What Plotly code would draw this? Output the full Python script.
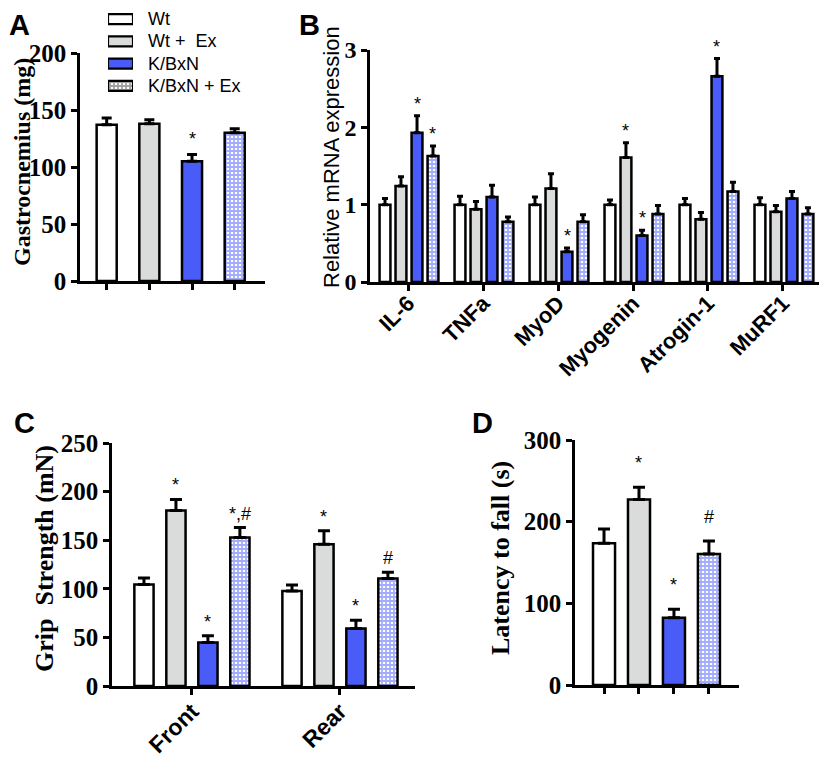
import plotly.graph_objects as go

# ---------------- data ----------------
groups = ["Wt", "Wt +  Ex", "K/BxN", "K/BxN + Ex"]

# Panel A: gastrocnemius mass (mg)
gastro_mean = [137, 138, 105, 130]
gastro_sem = [6, 3.5, 6, 3.5]
gastro_sig = ["", "", "*", ""]

# Panel B: relative mRNA expression
genes = ["IL-6", "TNFa", "MyoD", "Myogenin", "Atrogin-1", "MuRF1"]
mrna_wt = [1.0, 1.0, 1.0, 1.0, 1.0, 1.0]
mrna_wt_sem = [0.08, 0.11, 0.10, 0.06, 0.08, 0.09]
mrna_wtex = [1.24, 0.94, 1.21, 1.61, 0.81, 0.91]
mrna_wtex_sem = [0.12, 0.10, 0.19, 0.19, 0.09, 0.08]
mrna_kbxn = [1.93, 1.10, 0.39, 0.60, 2.66, 1.08]
mrna_kbxn_sem = [0.22, 0.15, 0.05, 0.07, 0.23, 0.09]
mrna_kbxnex = [1.63, 0.78, 0.78, 0.88, 1.17, 0.88]
mrna_kbxnex_sem = [0.13, 0.06, 0.09, 0.11, 0.12, 0.08]
mrna_sig = [
    ["", "", "", "", "", ""],
    ["", "", "", "*", "", ""],
    ["*", "", "*", "*", "*", ""],
    ["*", "", "", "", "", ""],
]

# Panel C: grip strength (mN)
limbs = ["Front", "Rear"]
grip_wt = [104.5, 97.7]
grip_wt_sem = [6.5, 6.2]
grip_wtex = [180.5, 145.8]
grip_wtex_sem = [11.5, 13.8]
grip_kbxn = [44.7, 59.1]
grip_kbxn_sem = [6.9, 8.6]
grip_kbxnex = [152.7, 110.7]
grip_kbxnex_sem = [10.3, 6.3]
grip_sig = [["", ""], ["*", "*"], ["*", "*"], ["*,#", "#"]]

# Panel D: latency to fall (s)
latency_mean = [173.5, 227, 82.4, 160.4]
latency_sem = [17.5, 15, 10.3, 16]
latency_sig = ["", "*", "*", "#"]

# ---------------- styles ----------------
BLUE = "#4a5cf7"
GRAY = "#d9dcdb"
fills = ["white", GRAY, BLUE, "white"]
patterns = ["", "", "", "+"]
SERIF = "Liberation Serif"
SANS = "Liberation Sans"
PAGE_OFF = 8                      # default body margin of the html page
W, H = 827 - PAGE_OFF, 757 - PAGE_OFF


def clamp(v):
    return min(1.0, max(0.0, v))


def fx(px):
    return (px - PAGE_OFF) / W


def fy(py):
    return 1 - (py - PAGE_OFF) / H


def dom_x(a, b):
    return [clamp(fx(a)), clamp(fx(b))]


def dom_y(top, bottom):
    return [clamp(fy(bottom)), clamp(fy(top))]


PAT = dict(fgcolor=BLUE, bgcolor="white", size=4, solidity=0.7,
           fillmode="overlay")


def pattern_for(i):
    if patterns[i]:
        return dict(shape=patterns[i], **PAT)
    return None


fig = go.Figure()


def add_bar(xpos, ys, sems, i, xa, ya, width, sig, sig_shift, cap):
    fig.add_trace(go.Bar(
        x=xpos, y=ys, width=width,
        marker=dict(color=fills[i], line=dict(color="black", width=2.5),
                    pattern=pattern_for(i)),
        error_y=dict(type="data", symmetric=False, array=sems,
                     arrayminus=[0] * len(ys), color="black",
                     thickness=3, width=cap),
        name=groups[i], showlegend=False,
        xaxis=xa, yaxis=ya,
    ))
    for x, y, s, t in zip(xpos, ys, sems, sig):
        if t:
            fig.add_annotation(x=x, y=y + s, text=t, xref=xa, yref=ya,
                               showarrow=False, yanchor="bottom",
                               yshift=sig_shift,
                               font=dict(family=SANS, size=18, color="black"))


# Panel A
for i in range(4):
    add_bar([i], [gastro_mean[i]], [gastro_sem[i]], i, "x", "y", 0.47,
            [gastro_sig[i]], 3, 5)

# Panel B
b_vals = [mrna_wt, mrna_wtex, mrna_kbxn, mrna_kbxnex]
b_sems = [mrna_wt_sem, mrna_wtex_sem, mrna_kbxn_sem, mrna_kbxnex_sem]
b_offsets = [-0.32, -0.107, 0.107, 0.32]
for i in range(4):
    xs = [k + 0.013 + b_offsets[i] for k in range(len(genes))]
    add_bar(xs, b_vals[i], b_sems[i], i, "x2", "y2", 0.145,
            mrna_sig[i], 0, 3)

# Panel C
c_vals = [grip_wt, grip_wtex, grip_kbxn, grip_kbxnex]
c_sems = [grip_wt_sem, grip_wtex_sem, grip_kbxn_sem, grip_kbxnex_sem]
c_offsets = [-0.324, -0.108, 0.108, 0.324]
for i in range(4):
    xs = [k + c_offsets[i] for k in range(len(limbs))]
    add_bar(xs, c_vals[i], c_sems[i], i, "x3", "y3", 0.13,
            grip_sig[i], 2, 6)

# Panel D
for i in range(4):
    add_bar([i], [latency_mean[i]], [latency_sem[i]], i, "x4", "y4", 0.63,
            [latency_sig[i]], 12, 6)

# Legend (drawn as a small horizontal-bar key so the boxes are wide)
fig.add_trace(go.Bar(
    y=list(range(len(groups))), x=[1] * len(groups), orientation="h",
    width=0.45, showlegend=False, hoverinfo="skip",
    marker=dict(color=fills, line=dict(color="black", width=2.2),
                pattern=dict(shape=patterns, **PAT)),
    xaxis="x5", yaxis="y5",
))
for k, g in enumerate(groups):
    fig.add_annotation(x=fx(146), y=k, xref="paper", yref="y5",
                       text=g, showarrow=False, xanchor="left",
                       yanchor="middle",
                       font=dict(family=SANS, size=18, color="black"))

axis_common = dict(showline=True, linecolor="black", linewidth=2.5,
                   ticks="outside", tickwidth=2.5, tickcolor="black",
                   ticklen=6, showgrid=False, zeroline=False,
                   automargin=False)
ytick_font = dict(family=SERIF, size=25, color="black", weight="bold")
hidden = dict(visible=False, showgrid=False, zeroline=False,
              automargin=False)

fig.update_layout(
    width=W, height=H, margin=dict(l=0, r=0, t=0, b=0, autoexpand=False),
    plot_bgcolor="white", paper_bgcolor="white", barmode="overlay",
    showlegend=False,
    # Panel A
    xaxis=dict(domain=dom_x(80, 265), range=[-0.625, 3.71],
               tickvals=[0, 1, 2, 3], ticktext=["", "", "", ""],
               anchor="y", **axis_common),
    yaxis=dict(domain=dom_y(53, 281), range=[0, 200],
               tickvals=[0, 50, 100, 150, 200], tickfont=ytick_font,
               anchor="x", **axis_common),
    # Panel B
    xaxis2=dict(domain=dom_x(370, 827), range=[-0.507, 5.587],
                tickvals=list(range(len(genes))), ticktext=genes,
                tickangle=-45, anchor="y2", ticklabelstandoff=-9,
                tickfont=dict(family=SANS, size=22, color="black",
                              weight="bold"),
                **axis_common),
    yaxis2=dict(domain=dom_y(50, 282), range=[0, 3],
                tickvals=[0, 1, 2, 3], anchor="x2",
                tickfont=dict(family=SERIF, size=24, color="black",
                              weight="bold"),
                **axis_common),
    # Panel C
    xaxis3=dict(domain=dom_x(112, 415), range=[-0.54, 1.507],
                tickvals=[0, 1], ticktext=limbs, tickangle=-45,
                anchor="y3", ticklabelstandoff=-6,
                tickfont=dict(family=SANS, size=23, color="black",
                              weight="bold"),
                **axis_common),
    yaxis3=dict(domain=dom_y(443, 686), range=[0, 250],
                tickvals=[0, 50, 100, 150, 200, 250], tickfont=ytick_font,
                anchor="x3", **axis_common),
    # Panel D
    xaxis4=dict(domain=dom_x(575, 739), range=[-0.83, 3.86],
                tickvals=[0, 1, 2, 3], ticktext=["", "", "", ""],
                anchor="y4", **axis_common),
    yaxis4=dict(domain=dom_y(440, 685), range=[0, 300],
                tickvals=[0, 100, 200, 300], tickfont=ytick_font,
                anchor="x4", **axis_common),
    # legend key axes
    xaxis5=dict(domain=dom_x(108, 133), range=[0, 1], anchor="y5", **hidden),
    yaxis5=dict(domain=dom_y(8, 97), range=[3.5, -0.5], anchor="x5",
                **hidden),
)

# y-axis titles (rotated text)
titles = [
    ("Gastrocnemius (mg)", 22, 162, SERIF, 24, "bold"),
    ("Relative mRNA expression", 332, 157, SANS, 22, "normal"),
    ("Grip  Strength (mN)", 44, 559, SERIF, 26, "bold"),
    ("Latency to fall (s)", 500, 558, SERIF, 26, "bold"),
]
for text, x, y, fam, size, wt in titles:
    fig.add_annotation(text=text, x=fx(x), y=fy(y), xref="paper",
                       yref="paper", xanchor="center", yanchor="middle",
                       textangle=-90, showarrow=False,
                       font=dict(family=fam, size=size, color="black",
                                 weight=wt))

# panel letters (x of box's left edge, y of box's top edge in page px)
for letter, x, y in [("A", 8, 8), ("B", 298, 8), ("C", 13, 406), ("D", 471, 406)]:
    fig.add_annotation(text=letter, x=fx(x), y=fy(y), xref="paper",
                       yref="paper", xanchor="left", yanchor="top",
                       showarrow=False, borderpad=0,
                       font=dict(family=SANS, size=29, color="black",
                                 weight="bold"))

fig.write_html("out.html")
